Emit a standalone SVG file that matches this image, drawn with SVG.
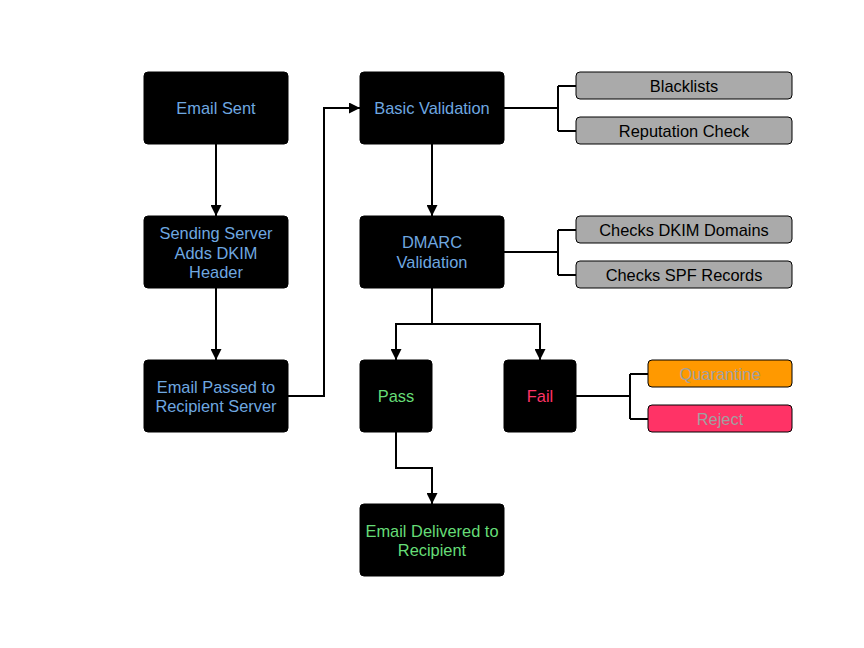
<svg xmlns="http://www.w3.org/2000/svg" width="864" height="648" viewBox="0 0 864 648">
<defs>
<marker id="arr" markerWidth="11" markerHeight="11" refX="11" refY="5.5" orient="auto" markerUnits="userSpaceOnUse">
<path d="M0,0 L11,5.5 L0,11 z" fill="#000"/>
</marker>
<style>
.blk{fill:#000;stroke:#000;stroke-width:1}
.gry{fill:#aaaaaa;stroke:#000;stroke-width:1}
.t{font-family:"Liberation Sans",Arial,Helvetica,sans-serif;font-size:16.4px;text-anchor:middle;dominant-baseline:central}
.blue{fill:#6fa8e0}
.green{fill:#66dd77}
.red{fill:#ff3366}
.dark{fill:#000}
.lg{fill:#a0a0a0}
.c{fill:none;stroke:#000;stroke-width:2}
</style>
</defs>
<rect width="864" height="648" fill="#fff"/>
<g id="connectors">
<path class="c" d="M216,144 V216" marker-end="url(#arr)"/>
<path class="c" d="M216,288 V360" marker-end="url(#arr)"/>
<path class="c" d="M288,396 H324 V108 H360" marker-end="url(#arr)"/>
<path class="c" d="M432,144 V216" marker-end="url(#arr)"/>
<path class="c" d="M432,288 V324 H396 V360" marker-end="url(#arr)"/>
<path class="c" d="M432,324 H540 V360" marker-end="url(#arr)"/>
<path class="c" d="M396,432 V468 H432 V504" marker-end="url(#arr)"/>
<path class="c" d="M504,108 H558 M558,86 V131 M558,86 H576 M558,131 H576"/>
<path class="c" d="M504,252 H558 M558,230 V275 M558,230 H576 M558,275 H576"/>
<path class="c" d="M576,396 H630 M630,374 V419 M630,374 H648 M630,419 H648"/>
</g>
<g id="email-sent"><rect class="blk" x="144" y="72" width="144" height="72" rx="4"/><text class="t blue" x="216" y="108">Email Sent</text></g>
<g id="sending-server"><rect class="blk" x="144" y="216" width="144" height="72" rx="4"/><text class="t blue" x="216" y="233">Sending Server</text><text class="t blue" x="216" y="252.5">Adds DKIM</text><text class="t blue" x="216" y="272">Header</text></g>
<g id="email-passed"><rect class="blk" x="144" y="360" width="144" height="72" rx="4"/><text class="t blue" x="216" y="387">Email Passed to</text><text class="t blue" x="216" y="406">Recipient Server</text></g>
<g id="basic-validation"><rect class="blk" x="360" y="72" width="144" height="72" rx="4"/><text class="t blue" x="432" y="108">Basic Validation</text></g>
<g id="dmarc-validation"><rect class="blk" x="360" y="216" width="144" height="72" rx="4"/><text class="t blue" x="432" y="242">DMARC</text><text class="t blue" x="432" y="261.5">Validation</text></g>
<g id="pass"><rect class="blk" x="360" y="360" width="72" height="72" rx="4"/><text class="t green" x="396" y="396">Pass</text></g>
<g id="fail"><rect class="blk" x="504" y="360" width="72" height="72" rx="4"/><text class="t red" x="540" y="396">Fail</text></g>
<g id="email-delivered"><rect class="blk" x="360" y="504" width="144" height="72" rx="4"/><text class="t green" x="432" y="531">Email Delivered to</text><text class="t green" x="432" y="550">Recipient</text></g>
<g id="blacklists"><rect class="gry" x="576" y="72" width="216" height="27" rx="4"/><text class="t dark" x="684" y="86">Blacklists</text></g>
<g id="reputation-check"><rect class="gry" x="576" y="117" width="216" height="27" rx="4"/><text class="t dark" x="684" y="131">Reputation Check</text></g>
<g id="checks-dkim"><rect class="gry" x="576" y="216" width="216" height="27" rx="4"/><text class="t dark" x="684" y="230">Checks DKIM Domains</text></g>
<g id="checks-spf"><rect class="gry" x="576" y="261" width="216" height="27" rx="4"/><text class="t dark" x="684" y="275">Checks SPF Records</text></g>
<g id="quarantine"><rect x="648" y="360" width="144" height="27" rx="4" fill="#ff9900" stroke="#000" stroke-width="1"/><text class="t lg" x="720" y="374">Quarantine</text></g>
<g id="reject"><rect x="648" y="405" width="144" height="27" rx="4" fill="#ff3366" stroke="#000" stroke-width="1"/><text class="t lg" x="720" y="419">Reject</text></g>
</svg>
